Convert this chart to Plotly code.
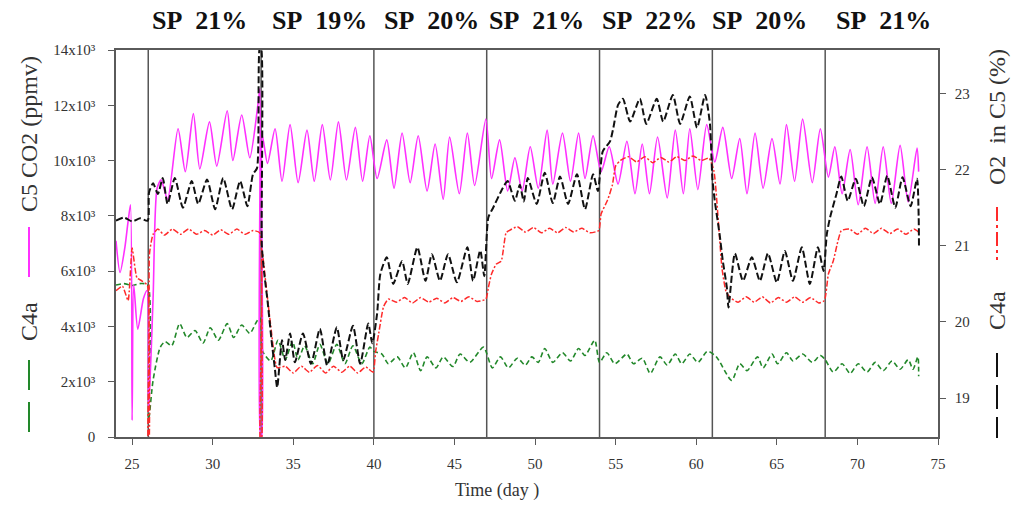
import plotly.graph_objects as go

# ---------------- data ----------------
# C5 CO2 concentration (ppmv), left axis
c5_co2_day = [24.0, 24.25, 24.55, 24.75, 24.9, 25.0, 25.1, 25.35, 25.7, 25.92,
              26.02, 26.3, 26.55, 26.8, 27.2, 27.85, 28.3, 28.8, 29.2, 29.8,
              30.25, 30.9, 31.25, 31.8, 32.3, 32.8, 32.93, 32.97, 33.03, 33.08,
              33.4, 33.87, 34.3, 34.8, 35.3, 35.85, 36.3, 36.8, 37.3, 37.8,
              38.3, 38.85, 39.3, 39.75, 40.2, 40.8, 41.25, 41.75, 42.25, 42.75,
              43.3, 43.8, 44.3, 44.7, 45.3, 45.8, 46.25, 46.95, 47.3, 47.8,
              48.3, 48.75, 49.2, 49.7, 50.2, 50.75, 51.1, 51.7, 52.2, 52.7,
              53.1, 53.6, 54.1, 54.6, 55.15, 55.7, 56.2, 56.65, 57.1, 57.6,
              58.2, 58.7, 59.2, 59.6, 60.1, 60.65, 61.15, 61.65, 62.2, 62.7,
              63.15, 63.65, 64.15, 64.7, 65.2, 65.6, 66.1, 66.6, 67.2, 67.7,
              68.2, 68.6, 69.05, 69.55, 70.05, 70.6, 71.1, 71.6, 72.1, 72.65,
              73.15, 73.7, 73.8]
c5_co2_ppmv = [7100, 5950, 6850, 7800, 8400, 600, 5500, 3900, 5000, 5300,
               900, 5000, 9000, 9300, 8600, 11150, 9600, 11700, 9700, 11400,
               9800, 11800, 10000, 11650, 10100, 12000, 12600, 0, 0, 10900,
               9900, 11150, 9250, 11300, 9200, 11100, 9250, 11300, 9300, 11400,
               9300, 11200, 9250, 10900, 9350, 10750, 9000, 11000, 9200, 10900,
               8900, 10600, 8600, 10850, 8800, 11000, 9100, 11500, 9350, 10750,
               8900, 10100, 8900, 10500, 9000, 11100, 9150, 11000, 9250, 11000,
               9350, 10900, 9600, 10500, 9150, 10700, 8800, 10600, 8800, 10850,
               8650, 11100, 8800, 11150, 8950, 11300, 9950, 11200, 9350, 10800,
               8800, 11000, 9000, 10800, 9150, 11300, 9250, 11500, 9200, 11150,
               9400, 10500, 8800, 10400, 8400, 10500, 8450, 10500, 8450, 10550,
               8500, 10450, 9600]

# C4a CO2 concentration (ppmv), left axis
c4a_co2_day = [24.0, 24.5, 25.0, 25.5, 25.97, 26.03, 26.3, 26.75, 27.05, 27.45,
               27.95, 28.4, 28.9, 29.4, 29.85, 30.35, 30.9, 31.3, 31.8, 32.3,
               32.75, 32.95, 33.1, 33.6, 34.05, 34.5, 34.95, 35.3, 35.7, 36.2,
               36.65, 37.15, 37.7, 38.2, 38.7, 39.25, 39.75, 40.0, 40.5, 40.9,
               41.45, 41.95, 42.45, 42.9, 43.3, 43.85, 44.3, 44.9, 45.35, 45.95,
               46.8, 47.35, 47.85, 48.35, 48.9, 49.4, 49.8, 50.2, 50.6, 51.1,
               51.7, 52.2, 52.7, 53.1, 53.7, 54.0, 54.45, 54.95, 55.7, 56.1,
               56.65, 57.15, 57.75, 58.2, 58.7, 59.1, 59.6, 60.1, 60.7, 61.25,
               62.2, 62.7, 63.15, 63.8, 64.15, 64.7, 65.05, 65.6, 66.0, 66.6,
               67.2, 67.7, 68.0, 68.5, 69.05, 69.55, 70.05, 70.6, 71.1, 71.6,
               72.15, 72.65, 73.15, 73.45, 73.75, 73.8]
c4a_co2_ppmv = [5500, 5550, 5480, 5550, 5500, 650, 2050, 3250, 3450, 3300,
                4100, 3600, 3850, 3400, 3950, 3500, 4100, 3600, 4050, 3750,
                4200, 4300, 3100, 2750, 3500, 2800, 3450, 2800, 3300, 2650,
                3350, 2650, 3350, 2650, 3300, 2650, 3250, 3100, 3000, 2650,
                2900, 2500, 3050, 2400, 2900, 2500, 2900, 2550, 3000, 2700,
                3250, 2500, 2900, 2500, 2850, 2600, 2900, 2700, 3200, 2700,
                3050, 2750, 3200, 2950, 3500, 2700, 3050, 2650, 3000, 2650,
                2850, 2300, 2900, 2600, 3000, 2650, 3000, 2700, 3100, 2900,
                2050, 2650, 2400, 2900, 2500, 3000, 2650, 3050, 2750, 3000,
                2700, 2950, 2800, 2350, 2650, 2300, 2650, 2350, 2700, 2400,
                2750, 2450, 2800, 2450, 2900, 2200]

# O2 in C5 (%), right axis
c5_o2_day = [24.0, 24.4, 24.75, 25.0, 25.3, 25.6, 25.95, 26.0, 26.04, 26.08,
             26.3, 26.6, 27.0, 27.5, 28.0, 28.5, 29.0, 29.5, 30.0, 30.5,
             31.0, 31.5, 32.0, 32.5, 32.92, 32.96, 33.02, 33.05, 33.3, 33.6,
             34.0, 34.5, 35.0, 35.5, 36.0, 36.5, 37.0, 37.5, 38.0, 38.5,
             39.0, 39.5, 39.95, 40.1, 40.3, 40.6, 40.9, 41.4, 41.9, 42.4,
             42.9, 43.4, 43.9, 44.4, 44.9, 45.4, 45.9, 46.4, 46.95, 47.1,
             47.3, 47.6, 47.9, 48.2, 48.4, 48.9, 49.4, 49.9, 50.4, 50.9,
             51.4, 51.9, 52.4, 52.9, 53.4, 53.95, 54.1, 54.5, 54.8, 55.0,
             55.3, 55.8, 56.3, 56.8, 57.3, 57.8, 58.3, 58.8, 59.3, 59.8,
             60.3, 60.8, 61.1, 61.4, 61.6, 61.85, 62.1, 62.6, 63.1, 63.6,
             64.1, 64.6, 65.1, 65.6, 66.1, 66.6, 67.1, 67.6, 67.95, 68.2,
             68.5, 68.8, 69.0, 69.5, 70.0, 70.5, 71.0, 71.5, 72.0, 72.5,
             73.0, 73.5, 73.8]
c5_o2_pct = [20.41, 20.47, 20.28, 20.97, 20.58, 20.54, 20.48, 18.4, 18.4, 20.9,
             21.15, 21.22, 21.14, 21.22, 21.15, 21.22, 21.15, 21.2, 21.14, 21.21,
             21.15, 21.22, 21.15, 21.2, 21.17, 18.4, 18.4, 20.95, 20.5, 19.95,
             19.4, 19.42, 19.33, 19.42, 19.34, 19.43, 19.33, 19.42, 19.34, 19.42,
             19.33, 19.41, 19.34, 19.6, 19.85, 20.2, 20.3, 20.26, 20.32, 20.25,
             20.32, 20.26, 20.31, 20.25, 20.32, 20.27, 20.33, 20.27, 20.3, 20.45,
             20.63, 20.76, 20.8, 21.17, 21.2, 21.25, 21.18, 21.24, 21.17, 21.23,
             21.17, 21.24, 21.18, 21.23, 21.17, 21.2, 21.42, 21.6, 21.8, 22.05,
             22.12, 22.17, 22.1, 22.17, 22.09, 22.16, 22.1, 22.17, 22.12, 22.18,
             22.12, 22.15, 21.98, 21.24, 20.7, 20.4, 20.32, 20.26, 20.33, 20.26,
             20.33, 20.25, 20.32, 20.26, 20.33, 20.26, 20.32, 20.25, 20.28, 20.63,
             20.8, 21.07, 21.2, 21.22, 21.15, 21.23, 21.16, 21.23, 21.16, 21.22,
             21.15, 21.22, 21.18]

# O2 in C4a (%), right axis
c4a_o2_day = [24.0, 24.5, 25.0, 25.5, 25.97, 26.05, 26.3, 26.6, 26.9, 27.2,
              27.65, 28.15, 28.7, 29.1, 29.65, 30.15, 30.65, 31.2, 31.7, 32.15,
              32.5, 32.75, 32.92, 33.0, 33.05, 33.2, 33.4, 33.65, 33.85, 34.0,
              34.3, 34.5, 34.8, 35.1, 35.6, 36.1, 36.65, 37.1, 37.7, 38.1,
              38.7, 39.15, 39.65, 39.9, 40.2, 40.4, 40.8, 41.2, 41.75, 42.1,
              42.7, 43.2, 43.6, 44.1, 44.6, 45.15, 45.8, 46.15, 46.6, 46.85,
              47.1, 47.4, 48.0, 48.3, 48.75, 49.05, 49.3, 49.55, 50.1, 50.6,
              51.1, 51.55, 52.05, 52.6, 53.1, 53.6, 53.9, 54.2, 54.65, 54.85,
              55.15, 55.45, 55.9, 56.5, 56.9, 57.55, 57.95, 58.55, 59.0, 59.6,
              60.05, 60.55, 60.85, 61.0, 61.15, 61.45, 61.65, 61.9, 62.0, 62.4,
              62.9, 63.45, 63.95, 64.45, 65.0, 65.5, 66.0, 66.55, 67.05, 67.55,
              67.9, 68.1, 68.3, 68.7, 69.0, 69.4, 69.9, 70.4, 70.9, 71.4,
              71.85, 72.35, 72.8, 73.3, 73.7, 73.8, 73.82]
c4a_o2_pct = [21.33, 21.37, 21.32, 21.36, 21.33, 21.7, 21.82, 21.68, 21.89, 21.55,
              21.89, 21.5, 21.85, 21.55, 21.87, 21.48, 21.89, 21.48, 21.85, 21.52,
              21.94, 22.02, 23.6, 23.6, 21.0, 20.63, 20.28, 19.76, 19.4, 19.14,
              19.76, 19.5, 19.85, 19.47, 19.85, 19.45, 19.91, 19.43, 19.93, 19.5,
              19.95, 19.45, 19.98, 19.72, 20.11, 20.63, 20.85, 20.5, 20.8, 20.5,
              20.98, 20.54, 20.89, 20.54, 20.89, 20.52, 20.98, 20.54, 20.94, 20.6,
              21.37, 21.5, 21.76, 21.85, 21.59, 21.8, 21.58, 21.89, 21.55, 21.96,
              21.56, 21.91, 21.55, 21.94, 21.48, 21.94, 21.72, 22.24, 22.37, 22.54,
              22.85, 22.93, 22.63, 22.93, 22.6, 22.93, 22.63, 22.98, 22.6, 22.96,
              22.55, 22.98, 22.6, 21.89, 21.59, 21.15, 20.8, 20.45, 20.19, 20.9,
              20.54, 20.85, 20.54, 20.9, 20.52, 20.93, 20.54, 20.98, 20.5, 20.98,
              20.67, 21.15, 21.37, 21.68, 21.91, 21.59, 21.88, 21.52, 21.9, 21.55,
              21.92, 21.5, 21.9, 21.52, 21.88, 21.39, 21.0]

# set-point changes and their labels
sp_change_days = [26, 33, 40, 47, 54, 61, 68]
sp_labels = ["SP\u00a0 21%", "SP\u00a0 19%", "SP\u00a0 20%", "SP\u00a0 21%",
             "SP\u00a0 22%", "SP\u00a0 20%", "SP\u00a0 21%"]
sp_label_days = [29.2, 36.6, 43.6, 50.1, 57.1, 63.9, 71.6]

x_ticks = [25, 30, 35, 40, 45, 50, 55, 60, 65, 70, 75]
co2_ticks = [0, 2000, 4000, 6000, 8000, 10000, 12000, 14000]
co2_tick_text = ["0"] + [f"{v // 1000}x10\u00b3" for v in co2_ticks[1:]]
o2_ticks = [19, 20, 21, 22, 23]

# ---------------- styling ----------------
W, H = 1017, 508
PL, PR, PT, PB = 116, 938, 50, 437   # plot area in pixels
SERIF = "Liberation Serif, Times New Roman, serif"
AXIS_COL = "#5a5a5a"
TXT_COL = "#333333"
MAGENTA = "#ff30ff"
GREEN = "#22882a"
RED = "#ff2a2a"
BLACK = "#111111"


def px_x(px):
    return (px - PL) / (PR - PL)


def px_y(py):
    return (PB - py) / (PB - PT)


fig = go.Figure()
fig.add_trace(go.Scatter(x=c4a_co2_day, y=c4a_co2_ppmv, mode="lines",
                         line=dict(color=GREEN, width=1.6, dash="5px,3px",
                                   shape="spline", smoothing=0.7),
                         name="C4a CO2", yaxis="y"))
fig.add_trace(go.Scatter(x=c5_co2_day, y=c5_co2_ppmv, mode="lines",
                         line=dict(color=MAGENTA, width=1.6,
                                   shape="spline", smoothing=0.7),
                         name="C5 CO2", yaxis="y"))
fig.add_trace(go.Scatter(x=c5_o2_day, y=c5_o2_pct, mode="lines",
                         line=dict(color=RED, width=1.5, dash="6px,2px,2px,2px",
                                   shape="spline", smoothing=0.5),
                         name="O2 in C5", yaxis="y2"))
fig.add_trace(go.Scatter(x=c4a_o2_day, y=c4a_o2_pct, mode="lines",
                         line=dict(color=BLACK, width=2, dash="7px,3px",
                                   shape="spline", smoothing=0.6),
                         name="C4a O2", yaxis="y2"))

shapes = []
for d in sp_change_days:
    shapes.append(dict(type="line", xref="x", yref="paper", x0=d, x1=d, y0=0, y1=1,
                       line=dict(color="#555555", width=1.5), layer="below"))

# legend-style line samples next to the axis titles
def sample(xpx, y_top, y_bot, color, width, dash):
    return dict(type="line", xref="paper", yref="paper",
                x0=px_x(xpx), x1=px_x(xpx), y0=px_y(y_top), y1=px_y(y_bot),
                line=dict(color=color, width=width, dash=dash))

shapes += [
    sample(29, 227, 277, MAGENTA, 2, "solid"),
    sample(29, 360, 434, GREEN, 2, "30px,12px"),
    sample(997, 207, 260, RED, 2, "14px,4px,3px,4px"),
    sample(997, 353, 438, BLACK, 2, "24px,8px"),
]

annotations = []
for lab, d in zip(sp_labels, sp_label_days):
    annotations.append(dict(text=lab, x=d, xref="x", y=px_y(21), yref="paper",
                            showarrow=False, xanchor="center", yanchor="middle",
                            font=dict(family=SERIF, size=26, color="#111111",
                                      weight="bold")))

def vtitle(text, xpx, ypx):
    return dict(text=text, x=px_x(xpx), y=px_y(ypx), xref="paper", yref="paper",
                showarrow=False, textangle=-90, xanchor="center", yanchor="middle",
                font=dict(family=SERIF, size=24, color=TXT_COL))

annotations += [
    vtitle("C5 CO2 (ppmv)", 29, 134),
    vtitle("C4a", 29, 322),
    vtitle("O2  in C5 (%)", 997, 117),
    vtitle("C4a", 997, 311),
    dict(text="Time (day )", x=px_x(497), y=px_y(490), xref="paper", yref="paper",
         showarrow=False, xanchor="center", yanchor="middle",
         font=dict(family=SERIF, size=18, color=TXT_COL)),
]

axis_common = dict(showline=True, linecolor=AXIS_COL, linewidth=1.5,
                   ticks="outside", ticklen=6, tickwidth=1.2, tickcolor=AXIS_COL,
                   showgrid=False, zeroline=False,
                   tickfont=dict(family=SERIF, size=15, color=TXT_COL))

fig.update_layout(
    width=W, height=H,
    margin=dict(l=PL, r=W - PR, t=PT, b=H - PB, pad=0),
    paper_bgcolor="white", plot_bgcolor="white",
    showlegend=False,
    xaxis=dict(range=[24, 75], tickvals=x_ticks, mirror=True,
               ticklabelstandoff=6, **axis_common),
    yaxis=dict(range=[0, 14000], tickvals=co2_ticks, ticktext=co2_tick_text,
               ticklabelstandoff=10, **axis_common),
    yaxis2=dict(range=[18.49, 23.57], tickvals=o2_ticks, overlaying="y",
                side="right", ticklabelstandoff=6, **axis_common),
    shapes=shapes,
    annotations=annotations,
)

fig.write_html("out.html")
